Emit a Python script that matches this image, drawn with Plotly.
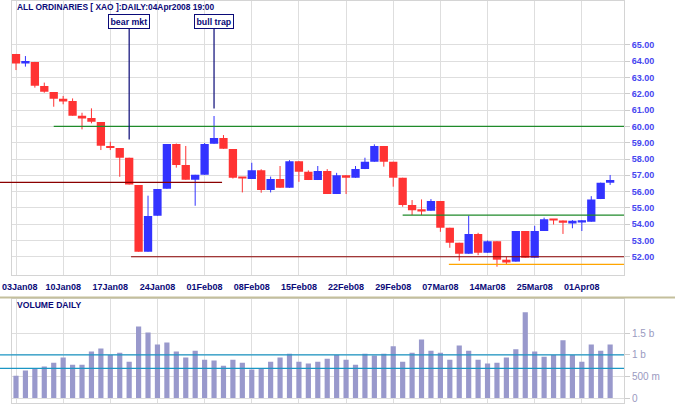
import plotly.graph_objects as go

# ---------------- data ----------------
dates = ["2008-01-03","2008-01-04","2008-01-07","2008-01-08","2008-01-09","2008-01-10","2008-01-11",
         "2008-01-14","2008-01-15","2008-01-16","2008-01-17","2008-01-18","2008-01-21","2008-01-22",
         "2008-01-23","2008-01-24","2008-01-25","2008-01-29","2008-01-30","2008-01-31","2008-02-01",
         "2008-02-04","2008-02-05","2008-02-06","2008-02-07","2008-02-08","2008-02-11","2008-02-12",
         "2008-02-13","2008-02-14","2008-02-15","2008-02-18","2008-02-19","2008-02-20","2008-02-21",
         "2008-02-22","2008-02-25","2008-02-26","2008-02-27","2008-02-28","2008-02-29","2008-03-03",
         "2008-03-04","2008-03-05","2008-03-06","2008-03-07","2008-03-10","2008-03-11","2008-03-12",
         "2008-03-13","2008-03-14","2008-03-17","2008-03-18","2008-03-19","2008-03-20","2008-03-25",
         "2008-03-26","2008-03-27","2008-03-28","2008-03-31","2008-04-01","2008-04-02","2008-04-03",
         "2008-04-04"]

open_ = [64.45,63.90,63.96,62.48,62.11,61.70,61.56,60.64,60.52,60.27,58.80,58.67,58.08,56.40,
         52.31,54.52,56.18,58.92,57.63,56.73,57.03,58.94,59.29,58.61,56.85,56.78,57.31,56.09,
         56.77,56.23,57.87,57.22,56.71,57.26,55.85,57.01,56.85,57.38,57.83,58.80,57.83,56.85,
         55.17,54.86,54.82,55.42,53.78,52.86,52.18,53.39,52.24,52.95,51.82,51.70,53.58,51.94,
         53.58,54.30,54.23,54.09,54.12,54.15,55.54,56.55]
high = [64.45,64.32,63.96,62.69,62.11,61.87,61.72,60.84,61.11,60.27,59.06,58.67,58.08,56.40,
        55.75,56.16,58.92,58.95,58.80,57.03,58.98,60.64,59.47,58.61,56.85,57.77,57.37,56.92,
        57.57,57.93,57.87,57.30,57.57,57.38,57.15,57.01,57.57,58.08,58.90,58.80,57.83,56.85,
        55.48,55.52,55.54,55.42,53.78,52.86,54.52,53.47,53.00,52.95,52.00,53.58,53.58,53.90,
        54.40,54.30,54.23,54.25,54.25,55.72,56.55,57.02]
low = [63.46,63.67,62.38,62.07,61.21,61.36,60.66,59.82,60.19,58.55,58.55,56.91,56.44,52.31,
       52.31,54.52,56.18,57.47,56.73,55.13,57.03,58.94,58.63,56.80,55.95,56.78,55.93,55.95,
       56.23,56.23,56.60,56.71,56.71,55.85,55.85,55.85,56.85,57.38,57.83,57.53,56.30,55.07,
       54.56,54.56,54.82,53.53,52.55,51.75,52.18,52.10,52.24,51.39,51.55,51.70,51.94,51.94,
       53.58,53.98,53.40,53.75,53.58,54.15,55.54,56.41]
close = [63.87,63.93,62.50,62.13,61.70,61.58,60.66,60.54,60.29,58.82,58.67,58.08,56.44,52.31,
         54.50,56.16,58.92,57.63,56.73,57.03,58.92,59.29,58.63,56.85,56.81,57.31,56.09,56.77,
         56.23,57.87,57.22,56.71,57.26,55.85,57.01,56.85,57.38,57.83,58.80,57.83,56.85,55.17,
         54.86,54.80,55.42,53.78,52.86,52.18,53.39,52.24,52.95,51.82,51.70,53.58,51.94,53.58,
         54.30,54.23,54.09,54.15,54.15,55.52,56.55,56.71]
volume_b = [0.52,0.64,0.70,0.73,0.82,0.94,0.77,0.77,1.08,1.15,
            1.00,1.05,0.84,1.66,1.52,1.24,1.29,1.08,0.94,1.10,
            0.89,0.87,0.75,0.89,0.82,0.66,0.68,0.84,0.94,1.03,
            0.84,0.80,0.84,0.91,1.00,0.89,0.77,1.03,0.99,1.03,
            1.20,0.84,1.05,1.36,1.10,1.05,0.89,1.22,1.10,0.89,
            0.80,0.82,0.94,1.13,1.99,1.08,0.96,1.00,1.34,1.00,
            0.84,1.24,1.10,1.24]

tick_idx = [0, 5, 10, 15, 20, 25, 30, 35, 40, 45, 50, 55, 60]
tick_labels = ["03Jan08","10Jan08","17Jan08","24Jan08","01Feb08","08Feb08","15Feb08",
               "22Feb08","29Feb08","07Mar08","14Mar08","25Mar08","01Apr08"]
price_ticks = [52,53,54,55,56,57,58,59,60,61,62,63,64,65]
vol_ticks = [0, 0.5, 1.0, 1.5]
vol_tick_labels = ["0", "500 m", "1 b", "1.5 b"]

# support / resistance levels: (price, start index, end index, colour)
levels = [(60.0, 4.0, None, "#1f8a2a"),
          (56.57, None, 21.85, "#8b0000"),
          (52.0, 12.2, None, "#8b0000"),
          (54.55, 41.0, None, "#1f8a2a"),
          (51.53, 45.9, None, "#ffa500")]
vol_levels = [1.0, 0.69]
notes = [("bear mkt", 12, 59.2), ("bull trap", 21, 61.1)]

# ---------------- geometry ----------------
W, H = 675, 410
X_L, X_R = 12, 624
XMIN, XMAX = -0.424, 64.47
RED, BLUE = "#ff3333", "#3333ff"
GRID = "#dedede"
NAVY = "#0a0a78"
FONT = "Liberation Sans, Arial, sans-serif"

def xpaper(idx):
    if idx is None:
        return None
    return (X_L + (idx - XMIN) / (XMAX - XMIN) * (X_R - X_L)) / W

n = len(dates)
idx = list(range(n))
up = [c >= o for o, c in zip(open_, close)]

fig = go.Figure()

for is_up, col in [(True, BLUE), (False, RED)]:
    sel = [i for i in idx if up[i] == is_up]
    # wicks
    wx, wy = [], []
    for i in sel:
        wx += [i, i, None]
        wy += [low[i], high[i], None]
    fig.add_trace(go.Scatter(x=wx, y=wy, mode="lines", line=dict(color=col, width=1),
                             hoverinfo="skip", xaxis="x", yaxis="y"))
    # bodies
    base = [min(open_[i], close[i]) for i in sel]
    hgt = [max(abs(close[i] - open_[i]), 0.12) for i in sel]
    fig.add_trace(go.Bar(x=sel, y=hgt, base=base, width=0.88, marker=dict(color=col, line=dict(width=0)),
                         xaxis="x", yaxis="y"))

fig.add_trace(go.Bar(x=idx, y=volume_b, width=0.55, marker=dict(color="#9999cc", line=dict(width=0)),
                     xaxis="x2", yaxis="y2"))

shapes = []
for price, i0, i1, col in levels:
    x0 = xpaper(i0) if i0 is not None else 0
    x1 = xpaper(i1) if i1 is not None else X_R / W
    shapes.append(dict(type="line", xref="paper", yref="y", x0=x0, x1=x1, y0=price, y1=price,
                       line=dict(color=col, width=1.2), layer="above"))
for v in vol_levels:
    shapes.append(dict(type="line", xref="paper", yref="y2", x0=0, x1=X_R / W, y0=v, y1=v,
                       line=dict(color="#1b96c4", width=1.2), layer="above"))
# separator between panels
shapes.append(dict(type="line", xref="paper", yref="paper", x0=0, x1=1, y0=1 - 297.5 / H, y1=1 - 297.5 / H,
                   line=dict(color="#c4bf9c", width=2)))

annotations = [dict(text="<b>ALL ORDINARIES [ XAO ]:DAILY:04Apr2008 19:00</b>", xref="paper", yref="paper",
                    x=15 / W, y=1 - 6.5 / H, xanchor="left", yanchor="middle", showarrow=False,
                    font=dict(family=FONT, size=8.4, color=NAVY)),
               dict(text="<b>VOLUME DAILY</b>", xref="paper", yref="paper",
                    x=15 / W, y=1 - 305 / H, xanchor="left", yanchor="middle", showarrow=False,
                    font=dict(family=FONT, size=8.6, color=NAVY)),
               # first date label, kept inside the page at the left edge
               dict(text="<b>%s</b>" % tick_labels[0], xref="paper", yref="paper",
                    x=0, y=1 - 286.5 / H, xanchor="left", yanchor="middle", showarrow=False,
                    font=dict(family=FONT, size=9, color=NAVY))]

# price axis mapping for annotation offsets
Y_T, Y_B = 0.5, 275.0
YMIN, YMAX = 50.88, 67.73
def ypix(p):
    return Y_T + (YMAX - p) / (YMAX - YMIN) * (Y_B - Y_T)

for txt, i, p in notes:
    annotations.append(dict(text="<b>" + txt + "</b>", x=i, y=p, xref="x", yref="y", showarrow=True,
                            arrowhead=0, arrowwidth=1.2, arrowcolor=NAVY, ax=0, ay=21.5 - ypix(p),
                            standoff=0, bordercolor=NAVY, borderwidth=1, borderpad=1.5, bgcolor="white",
                            font=dict(family=FONT, size=8.8, color=NAVY)))

x_ticktext = [""] + ["<b>%s</b>" % t for t in tick_labels[1:]]

fig.update_layout(
    width=W, height=H, margin=dict(l=0, r=0, t=0, b=0, autoexpand=False),
    paper_bgcolor="white", plot_bgcolor="white",
    showlegend=False, barmode="overlay",
    shapes=shapes, annotations=annotations,
    xaxis=dict(domain=[X_L / W, X_R / W], range=[XMIN, XMAX], anchor="y", automargin=False,
               tickmode="array", tickvals=tick_idx, ticktext=x_ticktext,
               showgrid=True, gridcolor=GRID, gridwidth=1, zeroline=False,
               showline=True, linecolor="#d4d4d4", mirror=True, ticks="",
               ticklabeloverflow="allow",
               tickfont=dict(family=FONT, size=9, color=NAVY), ticklabelstandoff=3),
    yaxis=dict(domain=[1 - Y_B / H, 1 - Y_T / H], range=[YMIN, YMAX], side="right", anchor="x",
               automargin=False,
               tickmode="array", tickvals=price_ticks, ticktext=["<b>%.2f</b>" % v for v in price_ticks],
               showgrid=True, gridcolor=GRID, zeroline=False,
               showline=True, linecolor="#d4d4d4", mirror=True,
               ticks="outside", ticklen=5, tickcolor="#cccccc",
               tickfont=dict(family=FONT, size=9, color="#4646f0")),
    xaxis2=dict(domain=[X_L / W, X_R / W], range=[XMIN, XMAX], anchor="y2", matches="x",
                automargin=False,
                tickmode="array", tickvals=tick_idx, showticklabels=False,
                showgrid=True, gridcolor=GRID, zeroline=False,
                showline=True, linecolor="#d4d4d4", mirror=True, ticks=""),
    yaxis2=dict(domain=[1 - 403 / H, 1 - 298.5 / H], range=[-0.115, 2.31], side="right", anchor="x2",
                automargin=False,
                tickmode="array", tickvals=vol_ticks, ticktext=vol_tick_labels,
                showgrid=True, gridcolor=GRID, zeroline=False,
                showline=True, linecolor="#d4d4d4", mirror=True,
                ticks="outside", ticklen=5, tickcolor="#cccccc",
                tickfont=dict(family=FONT, size=10, color="#9a9abf")),
)

fig.write_html("out.html")
